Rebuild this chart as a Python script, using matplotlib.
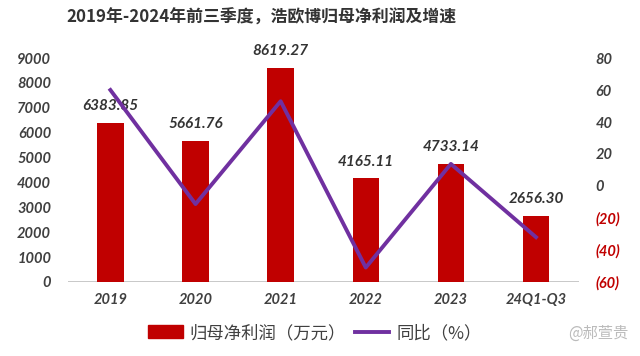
import matplotlib
matplotlib.use("Agg")
import matplotlib.pyplot as plt
from matplotlib.lines import Line2D
from matplotlib.patches import Patch

plt.rcParams['font.family'] = ['Noto Sans CJK SC', 'DejaVu Sans']

# data
years = ["2019", "2020", "2021", "2022", "2023", "24Q1-Q3"]
profit = [6383.85, 5661.76, 8619.27, 4165.11, 4733.14, 2656.30]  # 归母净利润 (万元)
growth = [60.0, -11.3, 53.0, -51.0, 13.8, -32.0]  # 同比 (%)
left_ticks = [0, 1000, 2000, 3000, 4000, 5000, 6000, 7000, 8000, 9000]
right_ticks = [-60, -40, -20, 0, 20, 40, 60, 80]

RED = "#C00000"
PURPLE = "#7030A0"
GREY = "#404040"
NUM_FONT = ['Lato', 'DejaVu Sans']

fig = plt.figure(figsize=(6.4, 3.56), dpi=100)
ax = fig.add_axes([0.106, 0.208, 0.798, 0.629])
ax2 = ax.twinx()

x = list(range(len(years)))
ax.bar(x, profit, width=0.31, color=RED, zorder=2)
ax.set_xlim(-0.5, len(years) - 0.5)
ax.set_ylim(0, 9000)
ax.set_yticks(left_ticks)
ax.set_yticklabels([str(t) for t in left_ticks], family=NUM_FONT,
                   fontsize=10.5, fontweight='bold', style='italic', color=GREY)
ax.set_xticks(x)
ax.set_xticklabels(years, family=NUM_FONT, fontsize=10.5,
                   fontweight='bold', style='italic', color=GREY)
ax.tick_params(length=0, pad=8)
ax.tick_params(axis='y', pad=12)

for xi, v in zip(x, profit):
    ax.annotate(f"{v:.2f}", (xi, v), xytext=(0, 7), textcoords='offset points',
                ha='center', va='bottom', family=NUM_FONT, fontsize=11,
                fontweight='bold', style='italic', color="#333333", zorder=5)

ax2.plot(x, growth, color=PURPLE, lw=2.8, zorder=3)
ax2.set_ylim(-60, 80)
ax2.set_yticks(right_ticks)
ax2.set_yticklabels([f"({abs(t)})" if t < 0 else str(t) for t in right_ticks],
                    family=NUM_FONT, fontsize=10.5, fontweight='bold', style='italic')
for lab, t in zip(ax2.get_yticklabels(), right_ticks):
    lab.set_color(RED if t < 0 else GREY)
ax2.tick_params(length=0, pad=12)

for a in (ax, ax2):
    for s in ('top', 'left', 'right', 'bottom'):
        a.spines[s].set_visible(False)
ax.axhline(0, color="#BFBFBF", lw=1.2, zorder=1)

handles = [Patch(color=RED), Line2D([0], [0], color=PURPLE, lw=2.8)]
fig.legend(handles, ["归母净利润（万元）", "同比（%）"], loc='center',
           bbox_to_anchor=(0.492, 0.065), ncol=2, frameon=False,
           fontsize=12.5, handlelength=2.0, handleheight=0.8,
           columnspacing=0.5, handletextpad=0.4, labelcolor=GREY)

fig.text(0.408, 0.95, "2019年-2024年前三季度，浩欧博归母净利润及增速",
         ha='center', va='center', fontsize=12.2, fontweight='bold', color="#333333")
fig.text(0.935, 0.065, "@郝萱贵", ha='center', va='center', fontsize=11,
         color="#BBBBBB")

fig.savefig("out.png", dpi=100)
